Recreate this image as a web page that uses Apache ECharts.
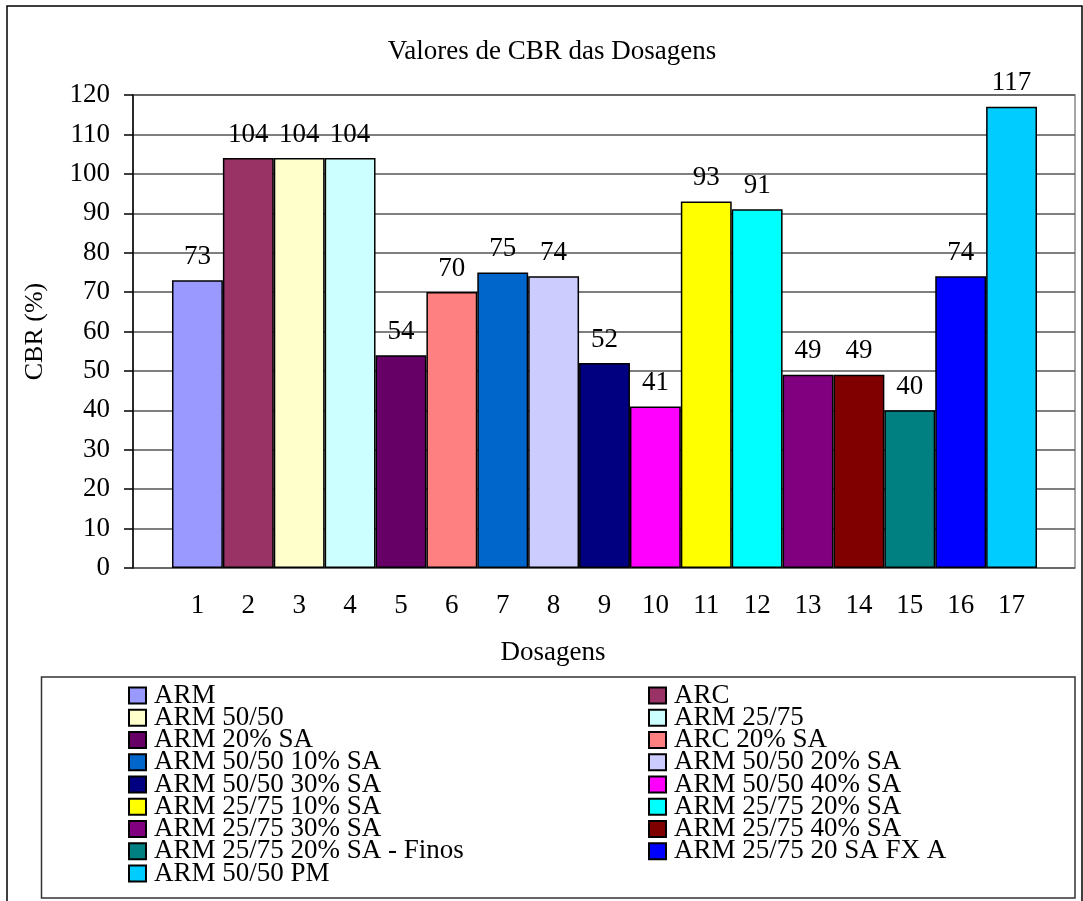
<!DOCTYPE html>
<html>
<head>
<meta charset="utf-8">
<title>Valores de CBR das Dosagens</title>
<script src="https://cdn.jsdelivr.net/npm/echarts@6/dist/echarts.min.js"></script>
<style>
    html, body {margin: 0; padding: 0; background: #fff;}
    #J_chartPanel {width: 1083px; height: 901px;}
</style>
</head>
<body>
<div id="J_chartPanel"></div>
<script>
// dados
var dosagens = ['1', '2', '3', '4', '5', '6', '7', '8', '9', '10', '11', '12', '13', '14', '15', '16', '17'];
var nomes = ['ARM', 'ARC', 'ARM 50/50', 'ARM 25/75', 'ARM 20% SA', 'ARC 20% SA',
    'ARM 50/50 10% SA', 'ARM 50/50 20% SA', 'ARM 50/50 30% SA', 'ARM 50/50 40% SA',
    'ARM 25/75 10% SA', 'ARM 25/75 20% SA', 'ARM 25/75 30% SA', 'ARM 25/75 40% SA',
    'ARM 25/75 20% SA - Finos', 'ARM 25/75 20 SA FX A', 'ARM 50/50 PM'];
var cbr = [73, 104, 104, 104, 54, 70, 75, 74, 52, 41, 93, 91, 49, 49, 40, 74, 117];
var cores = ['#9999FF', '#993366', '#FFFFCC', '#CCFFFF', '#660066', '#FF8080',
    '#0066CC', '#CCCCFF', '#000080', '#FF00FF', '#FFFF00', '#00FFFF',
    '#800080', '#800000', '#008080', '#0000FF', '#00CCFF'];
var yTicks = [0, 120, 10]; // min, max, interval

;(function(window){
    var fonte = '"Liberation Serif", "Times New Roman", serif';

    // uma serie por dosagem, empilhadas para ocupar a largura toda
    var series = [];
    for (var i = 0; i < nomes.length; i++) {
        var d = [];
        for (var j = 0; j < dosagens.length; j++) {
            d.push(j === i ? cbr[i] : '-');
        }
        series.push({
            name: nomes[i],
            type: 'bar',
            xAxisIndex: 1,
            yAxisIndex: 1,
            stack: 'cbr',
            barWidth: '100%',
            data: d,
            itemStyle: {color: cores[i], borderColor: '#000', borderWidth: 1.5},
            label: {
                show: true, position: 'top', distance: 10,
                color: '#000', fontFamily: fonte, fontSize: 27
            }
        });
    }

    var legendaEsq = [], legendaDir = [];
    nomes.forEach(function(n, k){ (k % 2 === 0 ? legendaEsq : legendaDir).push(n); });

    var legendBase = {
        type: 'plain', orient: 'vertical', top: 682, height: 215, padding: 0, itemGap: -4.75,
        itemWidth: 17, itemHeight: 16, icon: 'rect',
        textStyle: {color: '#000', fontFamily: fonte, fontSize: 27, padding: [0, 0, 0, 3]}
    };

    var chartOptions = {
        backgroundColor: '#fff',
        animation: false,
        title: {
            text: 'Valores de CBR das Dosagens',
            left: 547, top: 33, textAlign: 'center',
            textStyle: {color: '#000', fontFamily: fonte, fontSize: 27, fontWeight: 'normal'}
        },
        legend: [
            Object.assign({}, legendBase, {left: 128, data: legendaEsq}),
            Object.assign({}, legendBase, {left: 648, data: legendaDir})
        ],
        grid: [
            {left: 133, right: 8, top: 95, bottom: 333, show: true, borderColor: '#888', borderWidth: 1.5},
            {left: 172, right: 46, top: 95, bottom: 333}
        ],
        xAxis: [
            {
                type: 'category', gridIndex: 0, data: [''],
                axisLine: {show: false}, axisTick: {show: false}, axisLabel: {show: false}
            },
            {
                type: 'category', gridIndex: 1, data: dosagens,
                axisLine: {show: false}, axisTick: {show: false},
                axisLabel: {color: '#000', fontFamily: fonte, fontSize: 27, margin: 24}
            }
        ],
        yAxis: [
            {
                type: 'value', gridIndex: 0,
                min: yTicks[0], max: yTicks[1], interval: yTicks[2],
                name: 'CBR (%)', nameLocation: 'middle', nameGap: 85, nameRotate: 90,
                nameTextStyle: {color: '#000', fontFamily: fonte, fontSize: 26},
                axisLine: {show: true, lineStyle: {color: '#000', width: 1.5}},
                axisTick: {show: true, length: 9, lineStyle: {color: '#000', width: 1.5}},
                axisLabel: {color: '#000', fontFamily: fonte, fontSize: 27, margin: 23},
                splitLine: {show: true, lineStyle: {color: '#555', width: 1.5}}
            },
            {
                type: 'value', gridIndex: 1, show: false,
                min: yTicks[0], max: yTicks[1], splitLine: {show: false}
            }
        ],
        graphic: [
            {
                type: 'rect', silent: true, z: -1,
                shape: {x: 7, y: 6, width: 1075, height: 1000},
                style: {fill: null, stroke: '#000', lineWidth: 1.5}
            },
            {
                type: 'rect', silent: true,
                shape: {x: 41.5, y: 677, width: 1033.5, height: 221},
                style: {fill: null, stroke: '#333', lineWidth: 1.5}
            },
            {
                type: 'text', silent: true, x: 553, y: 653,
                style: {
                    text: 'Dosagens', fill: '#000', font: '27px ' + fonte,
                    textAlign: 'center', textVerticalAlign: 'middle'
                }
            }
        ],
        series: series
    };

    var myChart = window.echarts.init(document.getElementById('J_chartPanel'));
    myChart.setOption(chartOptions);
})(window);
</script>
</body>
</html>
